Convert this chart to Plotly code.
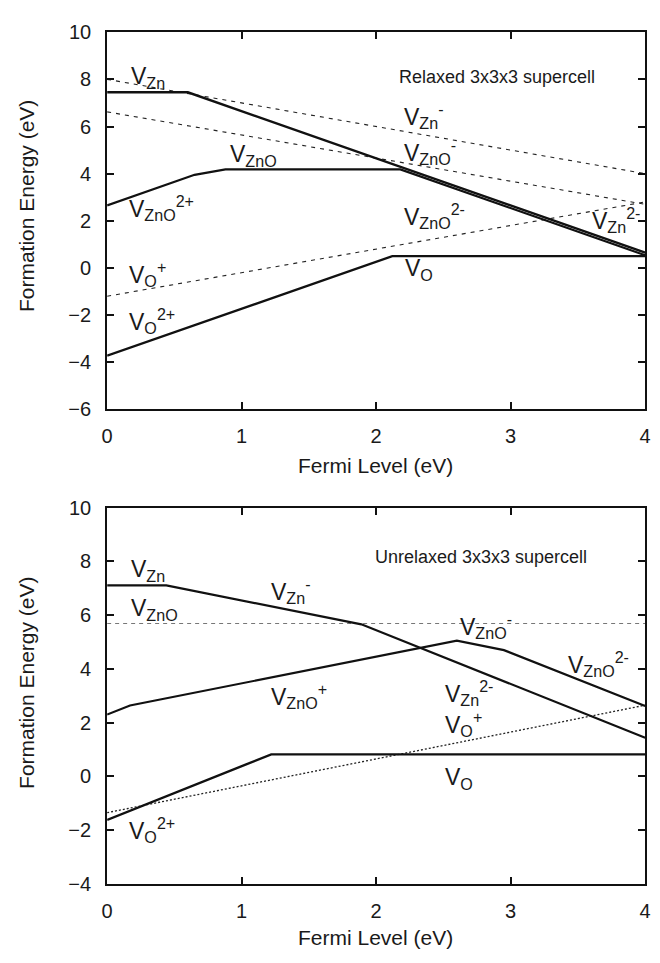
import plotly.graph_objects as go

# ---------------- data ----------------
# Top panel: relaxed 3x3x3 supercell
top_vzn_x = [0.0, 0.60, 4.0]
top_vzn_y = [7.45, 7.45, 0.65]
top_vzno_x = [0.0, 0.65, 0.88, 2.18, 4.0]
top_vzno_y = [2.65, 3.95, 4.18, 4.18, 0.54]
top_vo_x = [0.0, 2.12, 4.0]
top_vo_y = [-3.72, 0.50, 0.50]
top_vzn_minus_x = [0.0, 4.0]
top_vzn_minus_y = [8.0, 4.0]
top_vzno_minus_x = [0.0, 4.0]
top_vzno_minus_y = [6.62, 2.70]
top_vo_plus_x = [0.0, 4.0]
top_vo_plus_y = [-1.20, 2.80]

# Bottom panel: unrelaxed 3x3x3 supercell
bot_vzn_x = [0.0, 0.44, 1.89, 4.0]
bot_vzn_y = [7.11, 7.11, 5.66, 1.44]
bot_vzno_x = [0.0, 0.17, 2.60, 2.95, 4.0]
bot_vzno_y = [2.30, 2.64, 5.05, 4.70, 2.62]
bot_vo_x = [0.0, 1.22, 4.0]
bot_vo_y = [-1.62, 0.82, 0.82]
bot_vzno_neutral_x = [0.0, 4.0]
bot_vzno_neutral_y = [5.69, 5.69]
bot_vo_plus_x = [0.0, 4.0]
bot_vo_plus_y = [-1.35, 2.65]

x_ticks = [0, 1, 2, 3, 4]
top_y_ticks = [-6, -4, -2, 0, 2, 4, 6, 8, 10]
bot_y_ticks = [-4, -2, 0, 2, 4, 6, 8, 10]

# label texts with the position of the "V" (left edge, vertical centre)
top_labels = [
    (0.16, 8.15, "V<sub>Zn</sub>"),
    (0.90, 4.87, "V<sub>ZnO</sub>"),
    (0.15, 2.56, "V<sub>ZnO</sub><sup>2+</sup>"),
    (2.19, 6.43, "V<sub>Zn</sub><sup>-</sup>"),
    (2.19, 4.91, "V<sub>ZnO</sub><sup>-</sup>"),
    (2.19, 2.22, "V<sub>ZnO</sub><sup>2-</sup>"),
    (3.59, 2.05, "V<sub>Zn</sub><sup>2-</sup>"),
    (0.15, -0.27, "V<sub>O</sub><sup>+</sup>"),
    (0.15, -2.27, "V<sub>O</sub><sup>2+</sup>"),
    (2.20, 0.00, "V<sub>O</sub>"),
]
bot_labels = [
    (0.16, 7.72, "V<sub>Zn</sub>"),
    (0.16, 6.30, "V<sub>ZnO</sub>"),
    (1.20, 6.89, "V<sub>Zn</sub><sup>-</sup>"),
    (2.61, 5.58, "V<sub>ZnO</sub><sup>-</sup>"),
    (1.20, 2.98, "V<sub>ZnO</sub><sup>+</sup>"),
    (3.41, 4.18, "V<sub>ZnO</sub><sup>2-</sup>"),
    (2.50, 3.11, "V<sub>Zn</sub><sup>2-</sup>"),
    (2.50, 1.95, "V<sub>O</sub><sup>+</sup>"),
    (2.50, 0.00, "V<sub>O</sub>"),
    (0.15, -1.99, "V<sub>O</sub><sup>2+</sup>"),
]
top_title = "Relaxed 3x3x3 supercell"
bot_title = "Unrelaxed 3x3x3 supercell"
x_title = "Fermi Level (eV)"
y_title = "Formation Energy (eV)"

FONT = "Liberation Sans, Arial, Helvetica, sans-serif"
INK = "#1a1a1a"
LABEL_SIZE = 23
fig = go.Figure()

def add_line(x, y, xa, ya, width=2.2, dash="solid", color="black"):
    fig.add_trace(go.Scatter(x=x, y=y, mode="lines", xaxis=xa, yaxis=ya,
                             line=dict(color=color, width=width, dash=dash),
                             showlegend=False, hoverinfo="skip"))

# top panel
add_line(top_vzn_minus_x, top_vzn_minus_y, "x", "y", 1.1, "4px,5px", "#222")
add_line(top_vzno_minus_x, top_vzno_minus_y, "x", "y", 1.1, "4px,5px", "#222")
add_line(top_vo_plus_x, top_vo_plus_y, "x", "y", 1.1, "4px,5px", "#222")
add_line(top_vzn_x, top_vzn_y, "x", "y", 2.4, color="#111")
add_line(top_vzno_x, top_vzno_y, "x", "y", 2.2, color="#111")
add_line(top_vo_x, top_vo_y, "x", "y", 2.4, color="#111")

# bottom panel
add_line(bot_vzno_neutral_x, bot_vzno_neutral_y, "x2", "y2", 1.1, "4px,4px", "#777777")
add_line(bot_vo_plus_x, bot_vo_plus_y, "x2", "y2", 1.3, "2px,2px", "#222")
add_line(bot_vzn_x, bot_vzn_y, "x2", "y2", 2.2, color="#111")
add_line(bot_vzno_x, bot_vzno_y, "x2", "y2", 2.2, color="#111")
add_line(bot_vo_x, bot_vo_y, "x2", "y2", 2.4, color="#111")

def add_labels(labels, xr, yr):
    for (x, y, t) in labels:
        shift = 0 if "<sup>" in t else -2
        fig.add_annotation(x=x, y=y, xref=xr, yref=yr, text=t, showarrow=False,
                           xanchor="left", yanchor="middle", yshift=shift,
                           font=dict(family=FONT, size=LABEL_SIZE, color=INK))

add_labels(top_labels, "x", "y")
add_labels(bot_labels, "x2", "y2")

fig.add_annotation(x=2.90, y=8.10, xref="x", yref="y", text=top_title,
                   xanchor="center", yanchor="middle",
                   showarrow=False, font=dict(family=FONT, size=18, color=INK))
fig.add_annotation(x=2.78, y=8.16, xref="x2", yref="y2", text=bot_title,
                   xanchor="center", yanchor="middle",
                   showarrow=False, font=dict(family=FONT, size=18, color=INK))

W, H = 660, 963
def px_x(p):
    return p / W
def px_y(p):
    return 1 - p / H

title_font = dict(family=FONT, size=21, color=INK)
for (xp, yp, txt, ang) in [(21, 200, y_title, -90), (21, 688, y_title, -90),
                           (376, 465, x_title, 0), (376, 948, x_title, 0)]:
    fig.add_annotation(x=px_x(xp), y=px_y(yp), xref="paper", yref="paper", text=txt,
                       textangle=ang, xanchor="center", yanchor="middle",
                       showarrow=False, font=title_font)

axis_common = dict(showline=True, linecolor="#111", linewidth=2, mirror="ticks",
                   ticks="inside", ticklen=7, tickwidth=1.5, tickcolor="#111",
                   showgrid=False, zeroline=False,
                   tickfont=dict(family=FONT, size=20, color=INK))

xdom = [px_x(103), px_x(651)]
fig.update_layout(
    width=W, height=H,
    margin=dict(l=0, r=0, t=0, b=0),
    paper_bgcolor="white", plot_bgcolor="white",
    xaxis=dict(domain=xdom, range=[0, 4], tickvals=x_ticks, anchor="y",
               ticklabelstandoff=8, **axis_common),
    yaxis=dict(domain=[px_y(407.7), px_y(21.7)], range=[-6, 10], tickvals=top_y_ticks,
               anchor="x", ticklabelstandoff=10, **axis_common),
    xaxis2=dict(domain=xdom, range=[0, 4], tickvals=x_ticks, anchor="y2",
                ticklabelstandoff=8, **axis_common),
    yaxis2=dict(domain=[px_y(893.3), px_y(508.3)], range=[-4, 10], tickvals=bot_y_ticks,
                anchor="x2", ticklabelstandoff=10, **axis_common),
)

fig.write_html("out.html",
               config={"displayModeBar": False},
               post_script="document.body.style.margin='0px';document.body.style.overflow='hidden';")
